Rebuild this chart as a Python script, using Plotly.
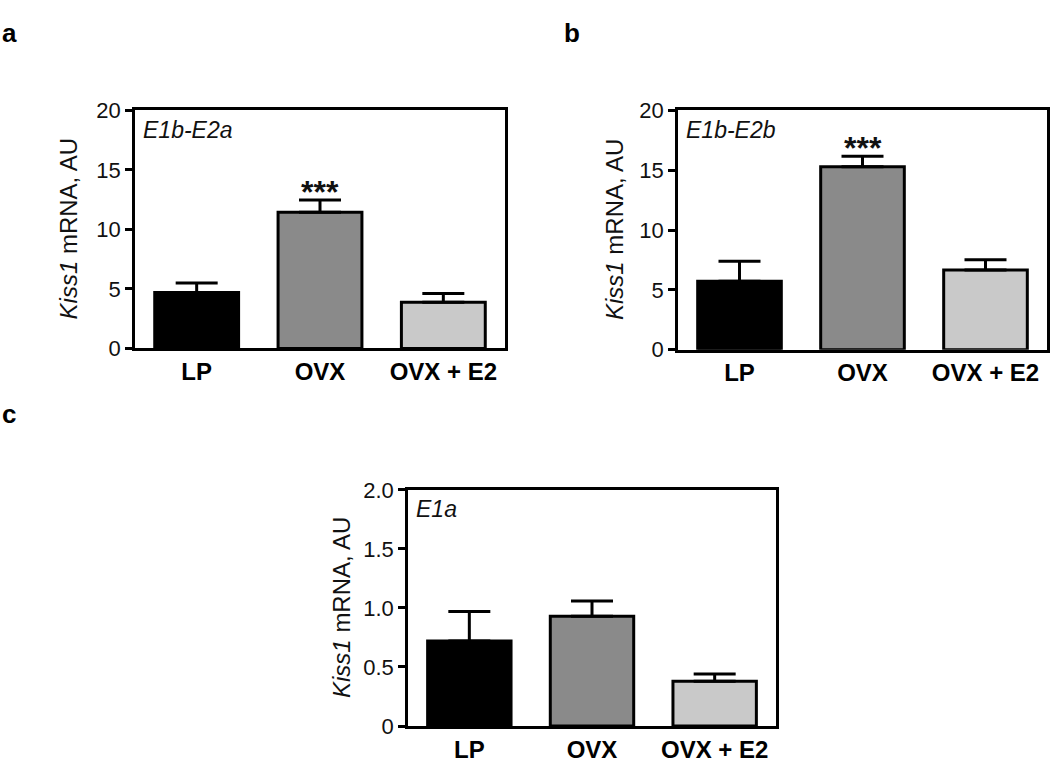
import plotly.graph_objects as go

# ---------------- data ----------------
categories = ["LP", "OVX", "OVX + E2"]

a_means = [4.69, 11.44, 3.88]
a_err = [0.81, 1.03, 0.73]
a_stars = ["", "***", ""]
a_label = "E1b-E2a"

b_means = [5.72, 15.28, 6.65]
b_err = [1.66, 0.89, 0.87]
b_stars = ["", "***", ""]
b_label = "E1b-E2b"

c_means = [0.72, 0.93, 0.38]
c_err = [0.25, 0.13, 0.06]
c_stars = ["", "", ""]
c_label = "E1a"

ab_tickvals = [0, 5, 10, 15, 20]
ab_ticktext = ["0", "5", "10", "15", "20"]
c_tickvals = [0, 0.5, 1.0, 1.5, 2.0]
c_ticktext = ["0", "0.5", "1.0", "1.5", "2.0"]

y_title = "<i>Kiss1</i> mRNA, AU"
panel_letters = ["a", "b", "c"]

# ---------------- styling ----------------
W, H = 1050, 769
bar_colors = ["#000000", "#8a8a8a", "#c9c9c9"]
FONT = "Liberation Sans, Arial, sans-serif"


def px_x(p):
    return p / W


def px_y(p):
    return 1 - p / H


# pixel boxes: (left, right, top, bottom)
boxes = {
    "a": (135, 505, 101.7, 347.7),
    "b": (678, 1047, 101.7, 349),
    "c": (408, 776, 494, 738),
}

panels = [
    ("a", a_means, a_err, a_stars, a_label, [0, 20], ab_tickvals, ab_ticktext, 68),
    ("b", b_means, b_err, b_stars, b_label, [0, 20], ab_tickvals, ab_ticktext, 614),
    ("c", c_means, c_err, c_stars, c_label, [0, 2], c_tickvals, c_ticktext, 342),
]

fig = go.Figure()
annotations = []
layout_axes = {}

for i, (key, means, errs, stars, lab, yr, tv, tt, title_x) in enumerate(panels):
    n = "" if i == 0 else str(i + 1)
    xa, ya = "x" + n, "y" + n
    L, R, T, B = boxes[key]
    fig.add_trace(go.Bar(
        x=categories, y=means,
        xaxis=xa, yaxis=ya,
        width=0.68,
        marker=dict(color=bar_colors, line=dict(color="black", width=3)),
        error_y=dict(type="data", array=errs, arrayminus=[0] * len(errs),
                     symmetric=False, color="black", thickness=3, width=21),
        showlegend=False,
    ))
    layout_axes["xaxis" + n] = dict(
        domain=[px_x(L), px_x(R)], anchor=ya, range=[-0.5, 2.5],
        showline=True, linecolor="black", linewidth=2.5, mirror=True,
        ticks="", showgrid=False, zeroline=False,
        tickfont=dict(family=FONT, size=24, color="black", weight="bold"),
        fixedrange=True,
    )
    layout_axes["yaxis" + n] = dict(
        domain=[px_y(B), px_y(T)], anchor=xa, range=yr,
        showline=True, linecolor="black", linewidth=2.5, mirror=True,
        ticks="outside", ticklen=7, tickwidth=2.5, tickcolor="black",
        tickvals=tv, ticktext=tt, showgrid=False, zeroline=False,
        tickfont=dict(family=FONT, size=22, color="#111111"),
        fixedrange=True,
    )
    # y title
    annotations.append(dict(
        text=y_title, xref="paper", yref="paper",
        x=px_x(title_x), y=px_y((T + B) / 2), textangle=-90,
        xanchor="center", yanchor="middle", showarrow=False,
        font=dict(family=FONT, size=24, color="#111111"),
    ))
    # inner italic label
    annotations.append(dict(
        text="<i>" + lab + "</i>", xref="paper", yref="paper",
        x=px_x(L + 6), y=px_y(T + 20), xanchor="left", yanchor="middle",
        showarrow=False, font=dict(family=FONT, size=23, color="#111111"),
    ))
    # significance stars
    for cat, m, e, s in zip(categories, means, errs, stars):
        if s:
            annotations.append(dict(
                text="<b>" + s + "</b>", xref=xa, yref=ya, x=cat, y=m + e,
                xanchor="center", yanchor="bottom", yshift=-12,
                showarrow=False, font=dict(family=FONT, size=32, color="#111111"),
            ))

letter_pos = [(0, 22), (562, 22), (0, 416)]
for letter, (lx, ly) in zip(panel_letters, letter_pos):
    annotations.append(dict(
        text="<b>" + letter + "</b>", xref="paper", yref="paper",
        x=px_x(lx), y=px_y(ly), xanchor="left", yanchor="middle",
        showarrow=False, font=dict(family=FONT, size=26, color="black"),
    ))

fig.update_layout(
    width=W, height=H,
    margin=dict(l=0, r=0, t=0, b=0),
    paper_bgcolor="white", plot_bgcolor="white",
    annotations=annotations,
    bargap=0.32,
    **layout_axes,
)

fig.write_html(
    "out.html",
    config={"displayModeBar": False},
    post_script="document.body.style.margin='0px';document.body.style.overflow='hidden';",
)
